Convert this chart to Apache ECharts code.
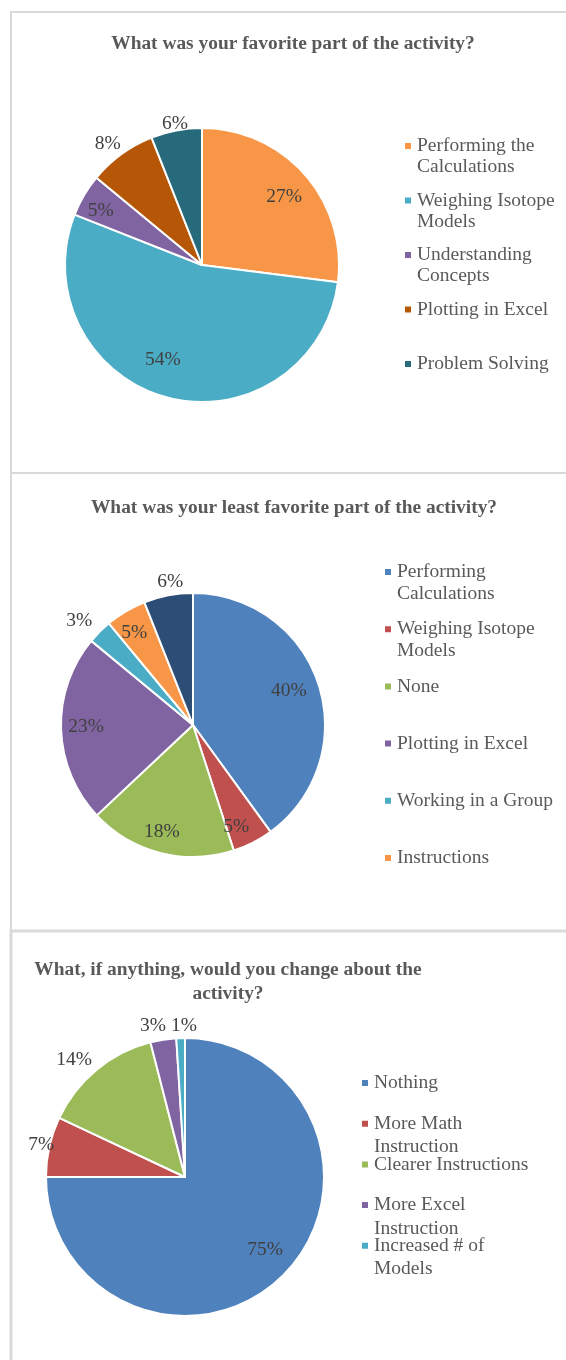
<!DOCTYPE html>
<html>
<head>
<meta charset="utf-8">
<script src="https://cdn.jsdelivr.net/npm/echarts@6/dist/echarts.min.js"></script>
<style>
  html, body { margin: 0; padding: 0; background: #ffffff; }
  #main { width: 566px; height: 1360px; }
</style>
</head>
<body>
<div id="main"></div>
<script>
// Survey results: three questions, values in percent
const favTitle = 'What was your favorite part of the activity?';
const favLabels = ['Performing the\nCalculations', 'Weighing Isotope\nModels', 'Understanding\nConcepts', 'Plotting in Excel', 'Problem Solving'];
const favValues = [27, 54, 5, 8, 6];

const leastTitle = 'What was your least favorite part of the activity?';
const leastLabels = ['Performing\nCalculations', 'Weighing Isotope\nModels', 'None', 'Plotting in Excel', 'Working in a Group', 'Instructions', 'Other'];
const leastValues = [40, 5, 18, 23, 3, 5, 6];
const leastLegendCount = 6; // the last slice has no legend entry

const changeTitle = 'What, if anything, would you change about the\nactivity?';
const changeLabels = ['Nothing', 'More Math\nInstruction', 'Clearer Instructions', 'More Excel\nInstruction', 'Increased # of\nModels'];
const changeValues = [75, 7, 14, 3, 1];

// Styling
const FONT = '"Liberation Serif", "Times New Roman", serif';
const TEXT_GRAY = '#595959';
const LABEL_GRAY = '#404040';
const favColors = ['#F79646', '#4BACC6', '#8064A2', '#B65708', '#276A7C'];
const leastColors = ['#4F81BD', '#C0504D', '#9BBB59', '#8064A2', '#4BACC6', '#F79646', '#2C4D75'];
const changeColors = ['#4F81BD', '#C0504D', '#9BBB59', '#8064A2', '#4BACC6'];

// Data label placement: radial distance (fraction of the radius) and
// angular nudge (degrees, clockwise) from each slice's mid angle
const favLabelDist = [0.78, 0.75, 0.84, 1.12, 1.05];
const favLabelTurn = [1.7, 8, -2.3, -1.9, 0];
const leastLabelDist = [0.77, 0.84, 0.84, 0.81, 1.17, 0.83, 1.10];
const leastLabelTurn = [-1.5, 4, 1.9, 0.8, -2.4, -1.9, 1.8];
const changeLabelDist = [0.78, 1.06, 1.16, 1.11, 1.09];
const changeLabelTurn = [-2.6, 0, -3.9, -3, 1.4];

const pies = [
  { labels: favLabels, values: favValues, colors: favColors, dist: favLabelDist, turn: favLabelTurn, center: [202, 265], r: 137 },
  { labels: leastLabels, values: leastValues, colors: leastColors, dist: leastLabelDist, turn: leastLabelTurn, center: [193, 725], r: 132 },
  { labels: changeLabels, values: changeValues, colors: changeColors, dist: changeLabelDist, turn: changeLabelTurn, center: [185, 1177], r: 139 }
];

const oneLine = s => s.replace(/\n/g, ' ');

function pieSeries(p) {
  return {
    type: 'pie',
    center: p.center,
    radius: p.r,
    startAngle: 90,
    clockwise: true,
    avoidLabelOverlap: false,
    animation: false,
    silent: true,
    data: p.values.map((v, i) => ({
      name: oneLine(p.labels[i]),
      value: v,
      itemStyle: { color: p.colors[i] }
    })),
    itemStyle: { borderColor: '#ffffff', borderWidth: 2 },
    label: {
      show: true,
      position: 'inside',
      formatter: '{c}%',
      fontFamily: FONT,
      fontSize: 19.5,
      color: LABEL_GRAY
    },
    labelLine: { show: false },
    labelLayout: function (params) {
      // start from the library's inside position (on the slice's mid angle)
      const rect = params.labelRect;
      const lx = rect.x + rect.width / 2;
      const ly = rect.y + rect.height / 2;
      const a = Math.atan2(lx - p.center[0], p.center[1] - ly) + p.turn[params.dataIndex] * Math.PI / 180;
      const d = p.dist[params.dataIndex] * p.r;
      return {
        dx: p.center[0] + d * Math.sin(a) - lx,
        dy: p.center[1] - d * Math.cos(a) - ly
      };
    }
  };
}

// One legend block per entry so each entry sits in its own slot
function legendBlocks(labels, colors, count, x, firstY, step, lineH) {
  const out = [];
  for (let i = 0; i < count; i++) {
    const multi = labels[i].indexOf('\n') >= 0;
    const text = (multi ? ' \n' : '') + labels[i];
    out.push({
      data: [{ name: oneLine(labels[i]), itemStyle: { color: colors[i] } }],
      orient: 'vertical',
      left: x,
      top: firstY + i * step - (multi ? 1.5 : 0.5) * lineH,
      padding: 0,
      itemWidth: 8,
      itemHeight: 8,
      icon: 'rect',
      selectedMode: false,
      formatter: () => text,
      textStyle: { fontFamily: FONT, fontSize: 19.5, lineHeight: lineH, color: TEXT_GRAY }
    });
  }
  return out;
}

const legends = [].concat(
  legendBlocks(favLabels, favColors, favLabels.length, 403, 146, 54.5, 21),
  legendBlocks(leastLabels, leastColors, leastLegendCount, 383, 572, 57.2, 22),
  legendBlocks(changeLabels, changeColors, changeLabels.length, 360, 1083, 40.7, 23.5)
);

const frameStyle = { fill: 'none', stroke: '#D9D9D9', lineWidth: 2 };
const titleStyle = (text, lh) => ({
  text: text, fill: TEXT_GRAY, fontFamily: FONT, fontSize: 19.4, fontWeight: 'bold',
  align: 'center', verticalAlign: 'middle', lineHeight: lh
});

const chart = echarts.init(document.getElementById('main'), null, { renderer: 'canvas' });
chart.setOption({
  backgroundColor: '#ffffff',
  animation: false,
  tooltip: { show: false },
  legend: legends,
  graphic: [
    { type: 'rect', z: -10, shape: { x: 11, y: 12, width: 600, height: 461 }, style: frameStyle },
    { type: 'rect', z: -10, shape: { x: 11, y: 473, width: 600, height: 458 }, style: frameStyle },
    { type: 'rect', z: -10, shape: { x: 11, y: 931, width: 600, height: 500 }, style: Object.assign({}, frameStyle, { lineWidth: 3 }) },
    { type: 'text', x: 293, y: 44, style: titleStyle(favTitle, 22) },
    { type: 'text', x: 294, y: 508, style: titleStyle(leastTitle, 22) },
    { type: 'text', x: 228, y: 982, style: titleStyle(changeTitle, 24) }
  ],
  series: pies.map(pieSeries)
});
</script>
</body>
</html>
